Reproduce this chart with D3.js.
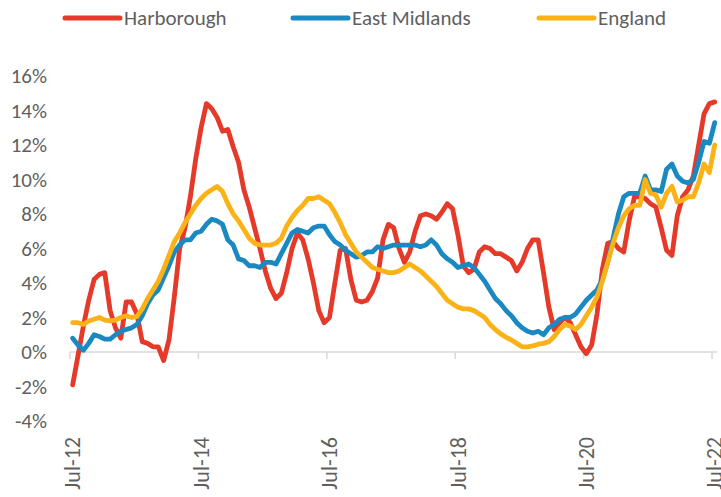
<!DOCTYPE html>
<html>
<head>
<meta charset="utf-8">
<script src="https://cdn.jsdelivr.net/npm/d3@7"></script>
<style>
  body { margin: 0; background: #fff; }
  svg text { font-family: Carlito, Calibri, Lato, sans-serif; fill: #5f5f5f; }
</style>
</head>
<body>
<svg id="chart" width="721" height="497"></svg>
<script>
// DATA (annual % change, monthly Jul-12 .. Jul-22)

var seriesNames = ["Harborough", "East Midlands", "England"];
var seriesColors = ["#e5392a", "#1a88c1", "#fbb217"];

var harborough = [
  -1.9, -0.2, 1.5, 3.0, 4.2, 4.5, 4.6, 2.4, 1.4, 0.8,
  2.9, 2.9, 2.2, 0.6, 0.5, 0.3, 0.3, -0.5, 0.7, 3.2,
  6.0, 7.2, 9.0, 11.2, 13.0, 14.4, 14.1, 13.6, 12.8, 12.9,
  11.9, 11.0, 9.4, 8.4, 7.2, 6.0, 4.7, 3.7, 3.1, 3.4,
  4.6, 6.0, 6.9, 6.5, 5.4, 4.0, 2.4, 1.7, 2.0, 4.0,
  5.9, 6.0, 4.2, 3.0, 2.9, 3.0, 3.5, 4.3, 6.5, 7.4,
  7.2, 6.0, 5.2, 5.8, 7.0, 7.9, 8.0, 7.9, 7.7, 8.1,
  8.6, 8.3, 6.8, 5.0, 4.6, 4.8, 5.8, 6.1, 6.0, 5.7,
  5.7, 5.5, 5.3, 4.7, 5.2, 6.0, 6.5, 6.5, 4.6, 2.6,
  1.3, 1.7, 2.0, 1.7, 1.0, 0.3, -0.1, 0.4, 2.2, 4.8,
  6.3, 6.4, 6.0, 5.8, 7.6, 9.0, 9.0, 8.9, 8.6, 8.4,
  7.2, 5.9, 5.6, 7.9, 9.0, 9.4, 10.2, 12.0, 13.8, 14.4,
  14.5
];

var eastMidlands = [
  0.8, 0.4, 0.1, 0.5, 1.0, 0.9, 0.75, 0.75, 1.0, 1.2,
  1.3, 1.4, 1.6, 2.1, 2.8, 3.3, 3.6, 4.3, 5.0, 5.8,
  6.2, 6.5, 6.5, 6.9, 7.0, 7.4, 7.7, 7.6, 7.4, 6.5,
  6.2, 5.4, 5.3, 5.0, 5.0, 4.9, 5.2, 5.2, 5.1, 5.7,
  6.3, 6.9, 7.1, 7.0, 6.9, 7.2, 7.3, 7.3, 6.8, 6.4,
  6.2, 5.9, 5.7, 5.5, 5.6, 5.8, 5.8, 6.1, 6.0, 6.1,
  6.2, 6.2, 6.2, 6.2, 6.2, 6.1, 6.2, 6.5, 6.2, 5.7,
  5.4, 5.2, 4.9, 5.0, 5.1, 4.9, 4.5, 4.1, 3.6, 3.1,
  2.8, 2.4, 2.1, 1.7, 1.4, 1.2, 1.1, 1.2, 1.0, 1.4,
  1.6, 1.9, 2.0, 2.0, 2.2, 2.6, 3.0, 3.3, 3.6, 4.2,
  5.2, 6.6, 8.0, 9.0, 9.2, 9.2, 9.2, 10.2, 9.4, 9.4,
  9.3, 10.6, 10.9, 10.2, 9.9, 9.8, 10.0, 11.0, 12.2, 12.1,
  13.3
];

var england = [
  1.7, 1.7, 1.6, 1.8, 1.9, 2.0, 1.85, 1.8, 1.85, 2.0,
  2.1, 2.0, 2.05, 2.5, 3.1, 3.6, 4.1, 4.8, 5.6, 6.4,
  6.9, 7.5, 8.0, 8.5, 8.9, 9.2, 9.4, 9.6, 9.3, 8.6,
  8.0, 7.6, 7.1, 6.6, 6.3, 6.2, 6.2, 6.2, 6.3, 6.6,
  7.3, 7.8, 8.2, 8.5, 8.9, 8.9, 9.0, 8.8, 8.6, 8.1,
  7.5, 6.8, 6.3, 5.8, 5.5, 5.2, 4.9, 4.8, 4.7, 4.6,
  4.6, 4.7, 4.9, 5.1, 4.9, 4.7, 4.4, 4.1, 3.8, 3.4,
  3.0, 2.8, 2.6, 2.5, 2.5, 2.4, 2.2, 2.0, 1.6, 1.3,
  1.05, 0.85, 0.7, 0.5, 0.3, 0.3, 0.35, 0.45, 0.5, 0.6,
  0.9, 1.3, 1.6, 1.5, 1.3, 1.6, 2.1, 2.6, 3.2, 4.1,
  5.2, 6.3, 7.2, 7.9, 8.3, 8.5, 8.5, 10.0, 9.2, 9.1,
  8.4, 9.2, 9.6, 8.7, 8.8, 9.0, 9.0, 9.8, 10.9, 10.4,
  12.0
];

var yTicks = [-4, -2, 0, 2, 4, 6, 8, 10, 12, 14, 16];
var xTickLabels = ["Jul-12", "Jul-14", "Jul-16", "Jul-18", "Jul-20", "Jul-22"];

// categories: one per month
var months = d3.timeMonth.range(new Date(2012, 6, 1), new Date(2022, 7, 1));
var categories = months.map(d3.timeFormat("%b-%y"));

var svg = d3.select("#chart");

var x = d3.scaleBand()
    .domain(categories)
    .range([70, 717.4])
    .paddingInner(0)
    .paddingOuter(0);

var y = d3.scaleLinear()
    .domain([-4, 16])
    .range([421, 76]);

function cx(i) { return x(categories[i]) + x.bandwidth() / 2; }

// Y LABELS

svg.append("g")
    .selectAll("text")
    .data(yTicks)
    .enter().append("text")
      .attr("x", 47)
      .attr("y", function(d) { return y(d); })
      .attr("dy", "0.35em")
      .attr("text-anchor", "end")
      .style("font-size", "21px")
      .text(function(d) { return d + "%"; });

// X AXIS at zero

svg.append("line")
    .attr("x1", 70).attr("x2", 717.4)
    .attr("y1", y(0)).attr("y2", y(0))
    .attr("stroke", "#d9d9d9")
    .attr("stroke-width", 1.5);

var tickCats = categories.filter(function(c) { return xTickLabels.indexOf(c) >= 0; });

svg.append("g")
    .selectAll("line")
    .data(tickCats)
    .enter().append("line")
      .attr("x1", function(d) { return x(d); })
      .attr("x2", function(d) { return x(d); })
      .attr("y1", y(0))
      .attr("y2", y(0) + 7)
      .attr("stroke", "#d9d9d9")
      .attr("stroke-width", 1.5);

// labels sit low, under the plot
svg.append("g")
    .selectAll("text")
    .data(tickCats)
    .enter().append("text")
      .attr("transform", function(d) {
        return "translate(" + (x(d) + x.bandwidth() / 2) + ",437) rotate(-90)";
      })
      .attr("dy", "0.35em")
      .attr("text-anchor", "end")
      .style("font-size", "22px")
      .text(function(d) { return d; });

// LINES

var line = d3.line()
    .x(function(d, i) { return cx(i); })
    .y(function(d) { return y(d); });

var allSeries = [harborough, eastMidlands, england];

svg.append("g")
    .selectAll("path")
    .data(allSeries)
    .enter().append("path")
      .attr("d", line)
      .attr("fill", "none")
      .attr("stroke", function(d, i) { return seriesColors[i]; })
      .attr("stroke-width", 4.8)
      .attr("stroke-linejoin", "round")
      .attr("stroke-linecap", "round");

// LEGEND

var legendX = [65, 293, 539];

var lg = svg.append("g")
    .selectAll("g")
    .data(seriesNames)
    .enter().append("g")
      .attr("transform", function(d, i) { return "translate(" + legendX[i] + ",18)"; });

lg.append("line")
    .attr("x1", 0).attr("x2", 55)
    .attr("y1", 0).attr("y2", 0)
    .attr("stroke", function(d, i) { return seriesColors[i]; })
    .attr("stroke-width", 5)
    .attr("stroke-linecap", "round");

lg.append("text")
    .attr("x", 59)
    .attr("dy", "0.35em")
    .style("font-size", "21px")
    .text(function(d) { return d; });
</script>
</body>
</html>
